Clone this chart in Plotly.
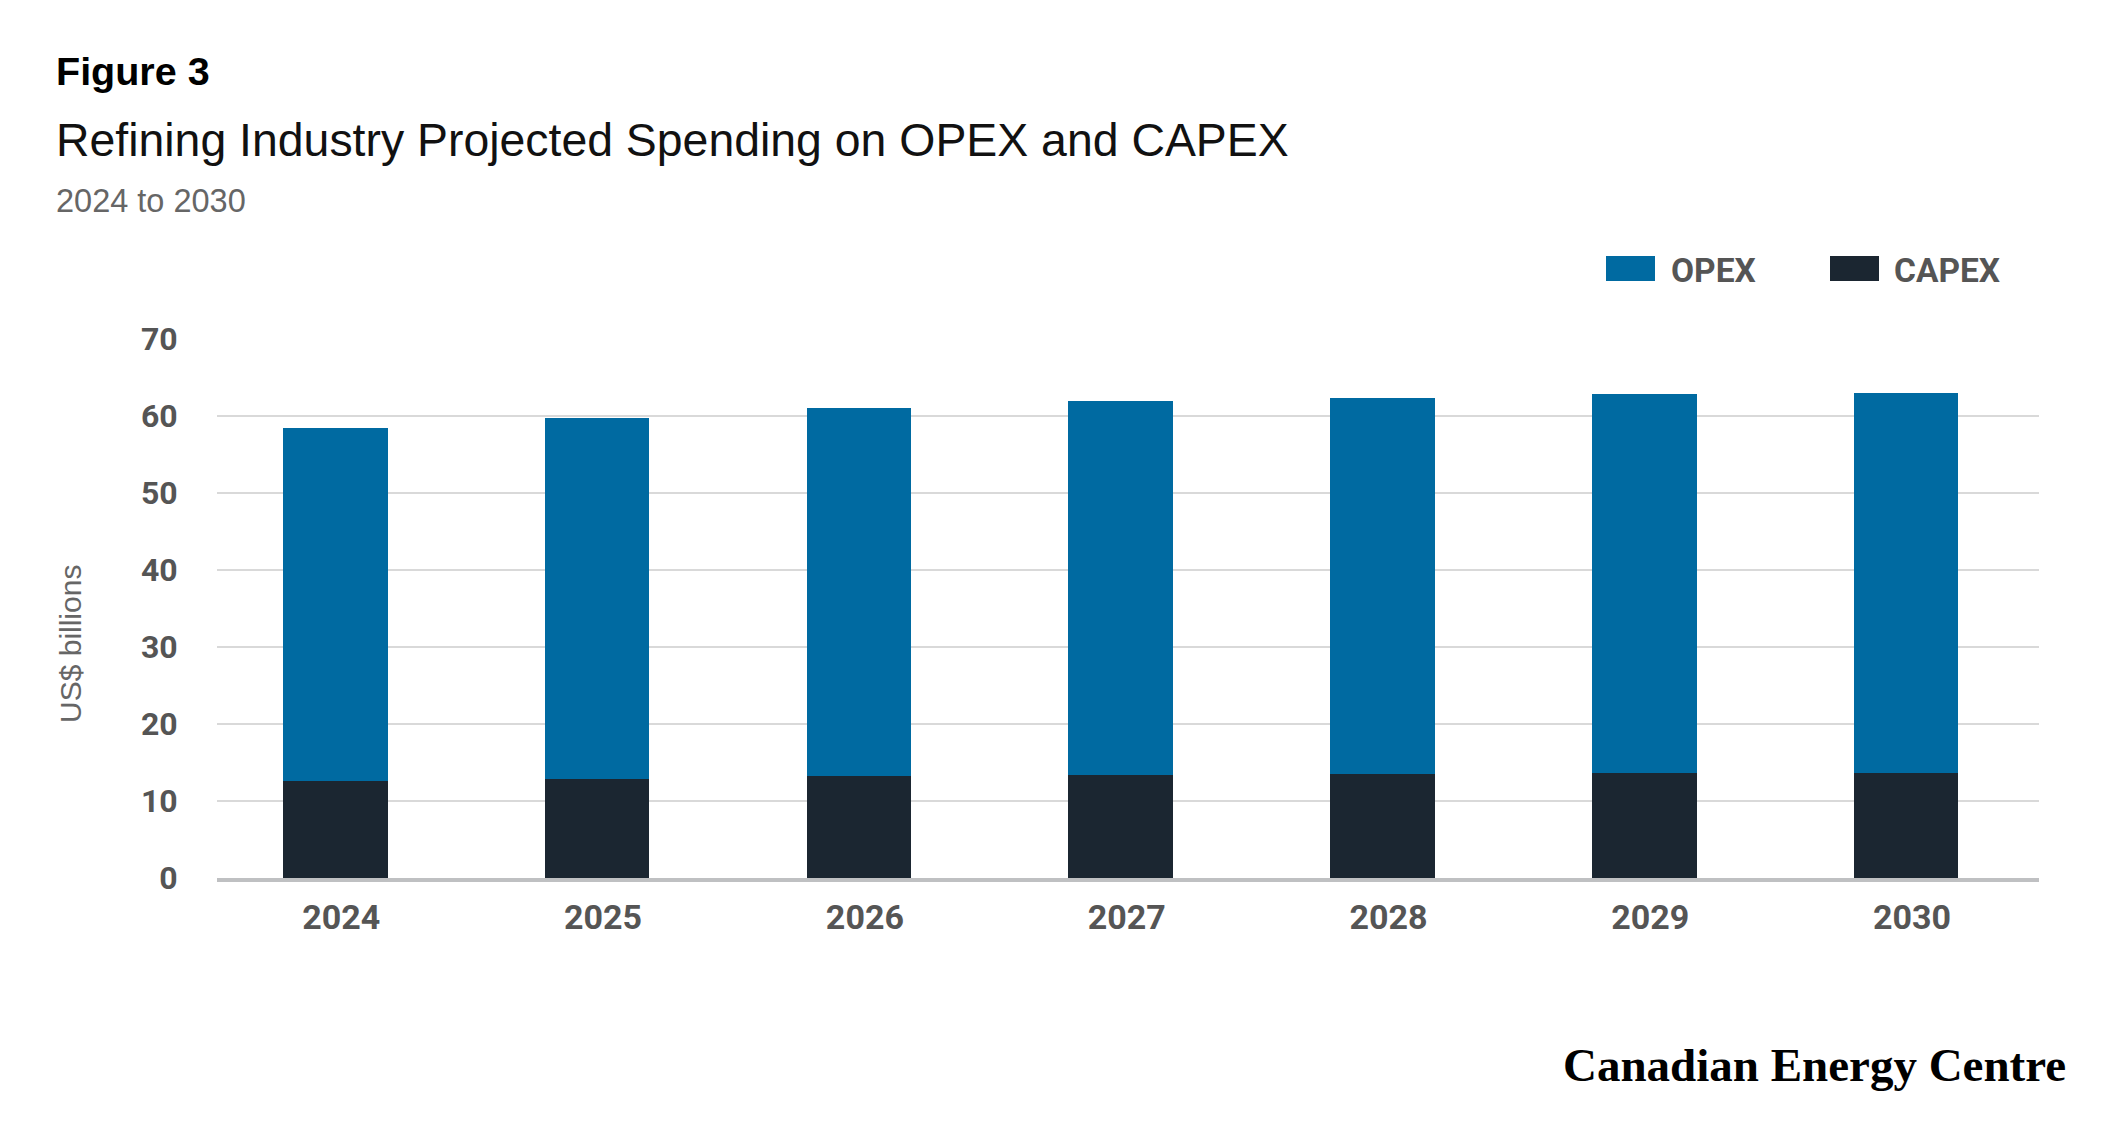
import plotly.graph_objects as go

years = ["2024", "2025", "2026", "2027", "2028", "2029", "2030"]
capex = [12.6, 12.9, 13.2, 13.4, 13.5, 13.6, 13.7]
opex = [45.8, 46.9, 47.8, 48.5, 48.9, 49.2, 49.3]
y_ticks = [0, 10, 20, 30, 40, 50, 60, 70]

OPEX_COLOR = "#006aa1"
CAPEX_COLOR = "#1b2631"
TICK_COLOR = "#555555"

# page has an 8px body margin; figure is sized/positioned to compensate
OFF = 8
W, H = 2115 - 2 * OFF, 1140 - 2 * OFF
PLOT_L, PLOT_R, PLOT_T, PLOT_B = 217, 2039, 339, 878  # target positions in the window
L, T = PLOT_L - OFF, PLOT_T - OFF
R = W - (PLOT_R - OFF)
B = H - (PLOT_B - OFF)
PW, PH = PLOT_R - PLOT_L, PLOT_B - PLOT_T


def px(x):
    return (x - PLOT_L) / PW


def py(y):
    return (PLOT_B - y) / PH


fig = go.Figure()
fig.add_trace(go.Bar(x=years, y=capex, name="CAPEX", marker=dict(color=CAPEX_COLOR, line=dict(width=0)),
                     width=0.40, showlegend=False))
fig.add_trace(go.Bar(x=years, y=opex, name="OPEX", marker=dict(color=OPEX_COLOR, line=dict(width=0)),
                     width=0.40, showlegend=False))

annotations = [
    dict(text="<b>Figure 3</b>", x=px(54), y=py(71), xanchor="left", yanchor="middle",
         font=dict(family="Liberation Sans", size=39.5, color="#000000")),
    dict(text="Refining Industry Projected Spending on OPEX and CAPEX", x=px(54), y=py(140), xanchor="left",
         yanchor="middle", font=dict(family="Liberation Sans", size=46.4, color="#111111")),
    dict(text="2024 to 2030", x=px(54), y=py(201), xanchor="left", yanchor="middle",
         font=dict(family="Liberation Sans", size=32.5, color="#666666")),
    dict(text="US$ billions", x=px(70), y=py(644), xanchor="center", yanchor="middle", textangle=-90,
         font=dict(family="Liberation Sans", size=30, color="#666666")),
    dict(text="<b>OPEX</b>", x=px(1669), y=py(270), xanchor="left", yanchor="middle",
         font=dict(family="Roboto", size=33.5, color=TICK_COLOR)),
    dict(text="<b>CAPEX</b>", x=px(1892), y=py(270), xanchor="left", yanchor="middle",
         font=dict(family="Roboto", size=33.5, color=TICK_COLOR)),
    dict(text="<b>Canadian Energy Centre</b>", x=px(2068), y=py(1065), xanchor="right", yanchor="middle",
         font=dict(family="Liberation Serif", size=47, color="#000000")),
]
for a in annotations:
    a.update(xref="paper", yref="paper", showarrow=False)

shapes = [
    dict(type="rect", xref="paper", yref="paper", x0=px(1606), x1=px(1655), y0=py(281), y1=py(256),
         fillcolor=OPEX_COLOR, line=dict(width=0)),
    dict(type="rect", xref="paper", yref="paper", x0=px(1830), x1=px(1879), y0=py(281), y1=py(256),
         fillcolor=CAPEX_COLOR, line=dict(width=0)),
]

fig.update_layout(
    width=W, height=H,
    margin=dict(l=L, r=R, t=T, b=B, pad=0),
    barmode="stack",
    paper_bgcolor="white", plot_bgcolor="white",
    annotations=annotations,
    shapes=shapes,
    showlegend=False,
    xaxis=dict(
        type="category", range=[-0.452, 6.508],
        showgrid=False, showline=True, linecolor="#bfc0c2", linewidth=4,
        ticks="outside", ticklen=6, tickcolor="rgba(0,0,0,0)",
        ticklabelshift=6,
        tickfont=dict(family="Roboto", size=34, color=TICK_COLOR),
        tickprefix="<b>", ticksuffix="</b>",
    ),
    yaxis=dict(
        range=[0, 70], tickvals=y_ticks, ticktext=[f"<b>{v}</b>" for v in y_ticks],
        showgrid=True, gridcolor="#d9d9d9", gridwidth=1.6,
        zeroline=False, showline=False,
        ticks="outside", ticklen=32, tickcolor="rgba(0,0,0,0)",
        tickfont=dict(family="Roboto", size=32, color=TICK_COLOR),
    ),
)

fig.write_html("out.html")
